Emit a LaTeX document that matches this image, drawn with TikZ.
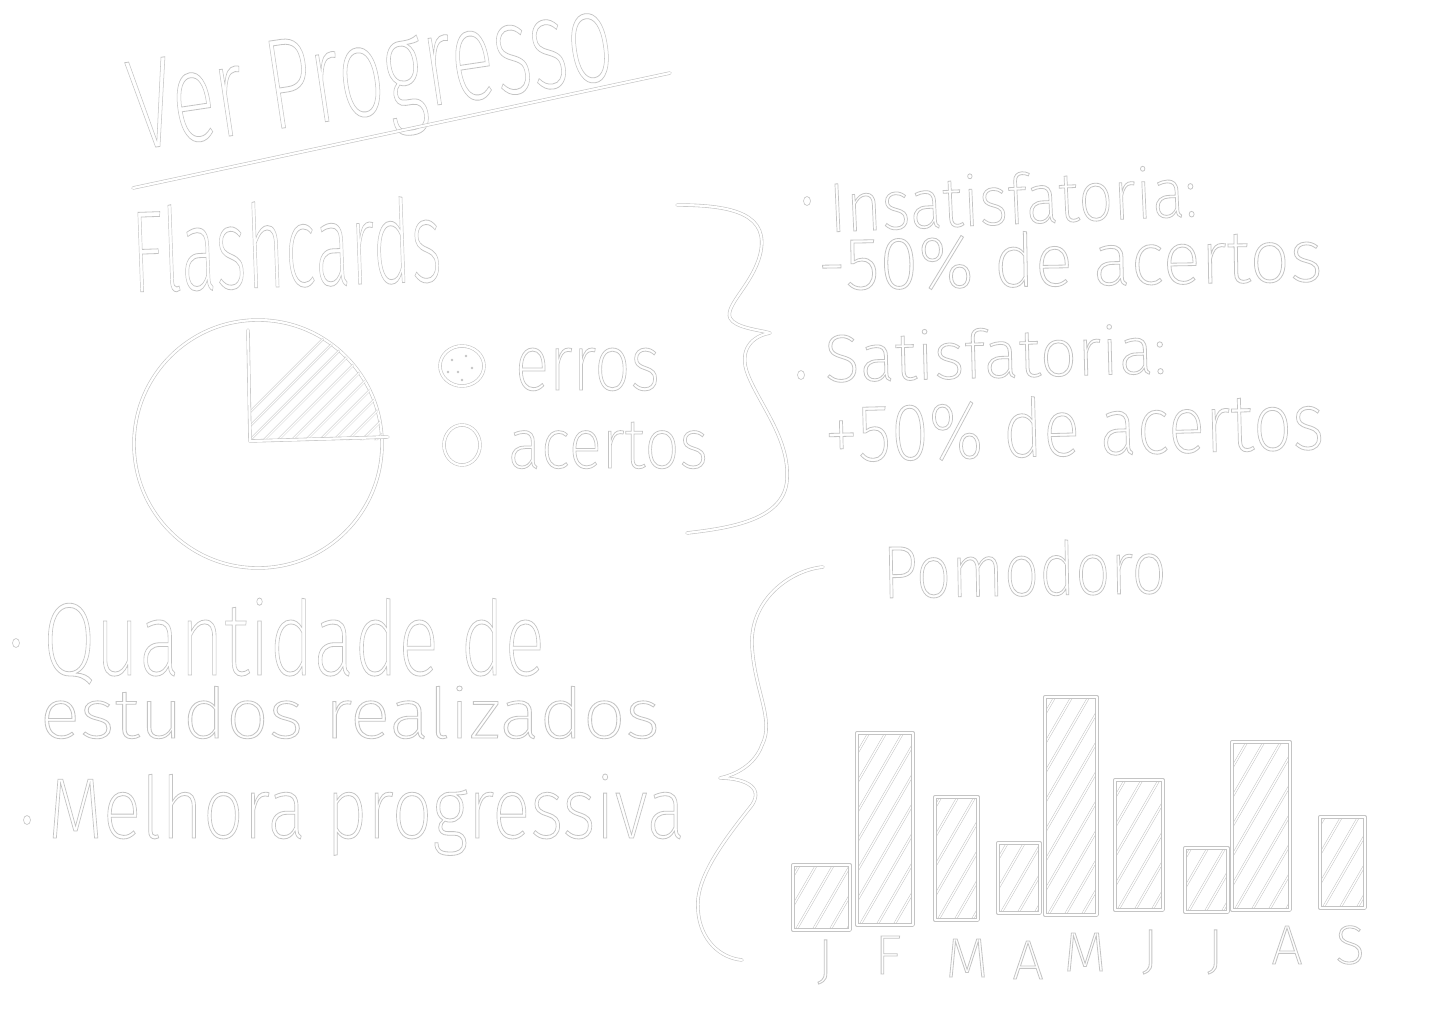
\documentclass[tikz,border=0pt]{standalone}
\usepackage{fontspec}
\usepackage{graphicx}
\IfFontExistsTF{Fira Sans ExtraLight}{\newfontfamily\hand{Fira Sans ExtraLight}}{%
  \IfFontExistsTF{Fira Sans Light}{\newfontfamily\hand{Fira Sans Light}}{\newfontfamily\hand{Fira Sans}}}
\definecolor{lineg}{RGB}{196,196,196}
\newcommand{\olon}{\special{pdf:literal direct 1 Tr 0.8 w}}
\newcommand{\oloff}{\special{pdf:literal direct 0 Tr}}
% width, height, font size, text
\newcommand{\hw}[4]{\resizebox{#1}{#2}{\fontsize{#3}{#3}\hand\olon #4\oloff}}
\newcommand{\hl}[1]{\resizebox{!}{38pt}{\fontsize{55}{55}\hand\olon #1\oloff}}
\tikzset{
  sk/.style={draw=lineg, double=white, double distance=2.2pt, line width=0.6pt, line cap=round, line join=round},
  hat/.style={draw=lineg, double=white, double distance=1.4pt, line width=0.5pt, line cap=round},
  txt/.style={inner sep=0pt, outer sep=0pt, text=lineg, anchor=base west},
  lbl/.style={inner sep=0pt, outer sep=0pt, text=lineg, anchor=center},
  bul/.style={draw=lineg, line width=0.6pt, fill=white}
}
\begin{document}
\begin{tikzpicture}[x=1pt,y=-1pt]
\fill[white] (0,0) rectangle (1432,1012);
\useasboundingbox (0,0) rectangle (1432,1012);

% title
\node[txt, rotate=8.5] (title) at (136,150) {\hw{487pt}{88pt}{128}{Ver Progresso}};
\coordinate (ulA) at (133,188);
\coordinate (ulB) at (670,73);
\draw[sk] (ulA) -- (ulB);

% Flashcards
\node[txt, rotate=2] (flash) at (133,292) {\hw{310pt}{86pt}{115}{Flashcards}};

% pie
\coordinate (pc) at (258,444);
\draw[sk] (pc) circle[radius=124pt];
\begin{scope}
  \clip (250,440) -- (250,320.3) arc[start angle=93.7, end angle=1.85, radius=124pt] -- cycle;
  \foreach \k in {0,...,16} \draw[hat] (200+\k*14,462) -- ++(170,-170);
\end{scope}
\draw[sk] (248,330) -- (250,441) -- (388,437);

% legend
\draw[sk] (462,366) ellipse[x radius=22pt, y radius=20pt];
\foreach \p in {(452,360),(466,356),(458,372),(472,368),(448,372),(462,380)}
  \fill[lineg] \p circle[radius=1.3pt];
\node[txt] (erros) at (515,390) {\hw{145pt}{42pt}{80}{erros}};
\draw[sk] (462,445) ellipse[x radius=18pt, y radius=20pt];
\node[txt] (acertos) at (508,468) {\hw{200pt}{46pt}{74}{acertos}};

% right brace
\draw[sk] (677,205) .. controls (735,205) and (770,215) .. (760,255)
  .. controls (752,285) and (725,305) .. (730,318)
  .. controls (735,328) and (760,330) .. (770,333)
  .. controls (752,336) and (738,350) .. (748,375)
  .. controls (760,405) and (790,440) .. (787,480)
  .. controls (784,520) and (730,528) .. (687,533);

% right texts
\draw[bul] (807,201) ellipse[x radius=3.5pt, y radius=4.5pt];
\node[txt, rotate=2.5] (insat) at (830,232) {\hw{368pt}{52pt}{70}{Insatisfatoria:}};
\node[txt, rotate=1] (menos) at (818,290) {\hw{505pt}{55pt}{73}{-50\% de acertos}};
\draw[bul] (801,375) ellipse[x radius=3.5pt, y radius=4.5pt];
\node[txt, rotate=1.5] (sat) at (825,382) {\hw{342pt}{50pt}{67}{Satisfatoria:}};
\node[txt, rotate=1.5] (mais) at (825,462) {\hw{500pt}{60pt}{80}{+50\% de acertos}};

% bottom left texts
\draw[bul] (16,643) ellipse[x radius=3.5pt, y radius=4.5pt];
\node[txt] (quant) at (43,675) {\hw{502pt}{77pt}{103}{Quantidade de}};
\node[txt] (estud) at (40,738) {\hw{620pt}{52pt}{69}{estudos realizados}};
\draw[bul] (27,820) ellipse[x radius=3.5pt, y radius=4.5pt];
\node[txt] (melh) at (48,838) {\hw{637pt}{64pt}{85}{Melhora progressiva}};

% left brace
\draw[sk] (823,567) .. controls (790,570) and (750,600) .. (752,645)
  .. controls (754,690) and (775,720) .. (762,745)
  .. controls (755,765) and (735,775) .. (720,778)
  .. controls (740,778) and (765,785) .. (752,805)
  .. controls (720,845) and (695,880) .. (698,910)
  .. controls (700,940) and (720,958) .. (742,960);

% Pomodoro
\node[txt, rotate=1] (pomo) at (883,598) {\hw{284pt}{55pt}{73}{Pomodoro}};

% bars
\foreach \xa/\xb/\yt/\yb in {793/850/865/930, 857/913/733/925, 935/978/797/920, 998/1040/843/913, 1045/1097/697/915, 1115/1163/780/910, 1185/1228/848/912, 1232/1290/742/910, 1320/1365/817/908}{
  \begin{scope}
    \clip (\xa,\yt) rectangle (\xb,\yb);
    \foreach \k in {0,...,13} \draw[hat] (\xa-150+\k*17,\yb) -- ++(150,-260);
  \end{scope}
  \draw[sk] (\xa,\yt) rectangle (\xb,\yb);
}

% month letters
\node[lbl] (m1) at (825,962) {\hl{J}};
\node[lbl] (m2) at (888,955) {\hl{F}};
\node[lbl] (m3) at (967,958) {\hl{M}};
\node[lbl] (m4) at (1028,960) {\hl{A}};
\node[lbl] (m5) at (1085,952) {\hl{M}};
\node[lbl] (m6) at (1150,952) {\hl{J}};
\node[lbl] (m7) at (1215,952) {\hl{J}};
\node[lbl] (m8) at (1287,945) {\hl{A}};
\node[lbl] (m9) at (1350,945) {\hl{S}};
\end{tikzpicture}
\end{document}
